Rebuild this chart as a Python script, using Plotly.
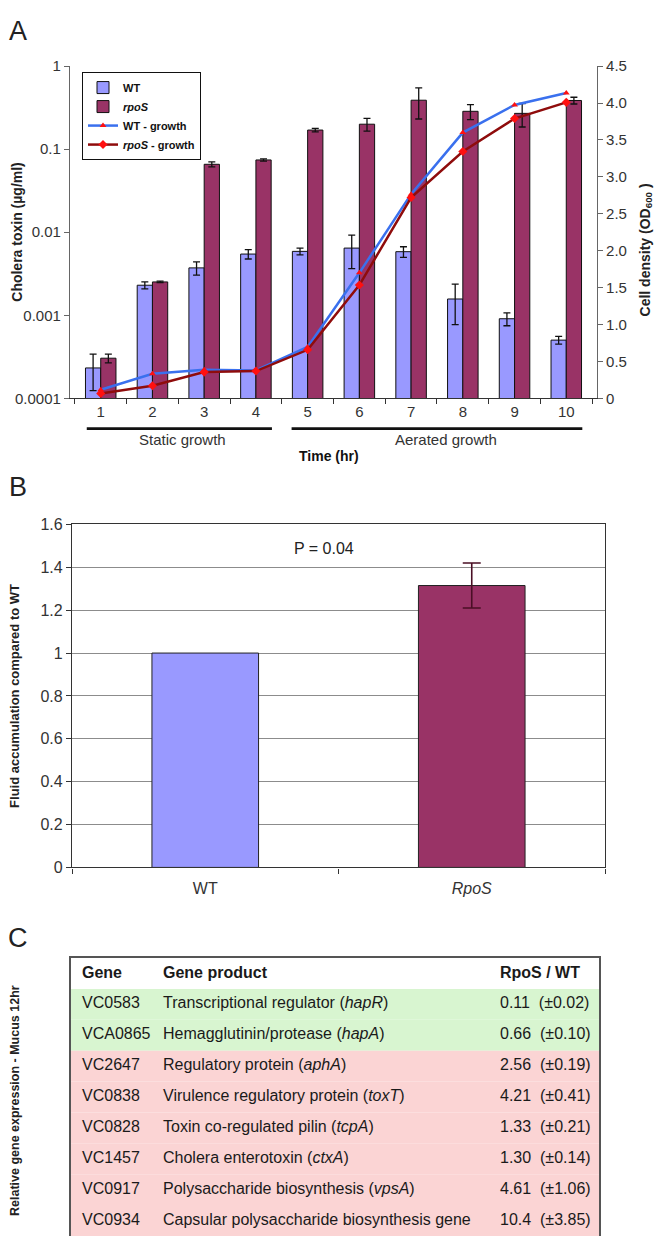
import plotly.graph_objects as go

W, H = 655, 1245


def px(x):
    return x / W


def py(y):
    return 1 - y / H


# ---------------- Panel A data ----------------
hours = [str(i) for i in range(1, 11)]
wt_toxin = [0.000232, 0.0023, 0.00372, 0.00546, 0.00588, 0.00644, 0.00583, 0.00157, 0.000908, 0.000502]
wt_toxin_err = [0.000108, 0.00022, 0.00068, 0.0007, 0.00054, 0.0028, 0.00085, 0.0008, 0.00016, 0.000054]
rpos_toxin = [0.000304, 0.00252, 0.0658, 0.0742, 0.17, 0.2, 0.389, 0.286, 0.27, 0.386]
rpos_toxin_err = [0.000037, 0.00005, 0.0046, 0.0024, 0.008, 0.035, 0.158, 0.059, 0.085, 0.036]
wt_growth = [0.115, 0.333, 0.386, 0.377, 0.696, 1.70, 2.766, 3.60, 3.975, 4.136]
rpos_growth = [0.066, 0.169, 0.355, 0.369, 0.657, 1.534, 2.72, 3.344, 3.79, 4.01]

log_ticks = [0.0001, 0.001, 0.01, 0.1, 1]
log_tick_text = ["0.0001", "0.001", "0.01", "0.1", "1"]
od_ticks = [0, 0.5, 1.0, 1.5, 2.0, 2.5, 3.0, 3.5, 4.0, 4.5]
od_tick_text = ["0", "0.5", "1.0", "1.5", "2.0", "2.5", "3.0", "3.5", "4.0", "4.5"]

# ---------------- Panel B data ----------------
fluid_strains = ["WT", "<i>RpoS</i>"]
fluid_values = [1.0, 1.315]
fluid_err = [0.105]

# ---------------- Panel C data ----------------
table_header = ["Gene", "Gene product", "RpoS / WT"]
genes = ["VC0583", "VCA0865", "VC2647", "VC0838", "VC0828", "VC1457", "VC0917", "VC0934"]
products = [
    "Transcriptional regulator (<i>hapR</i>)",
    "Hemagglutinin/protease (<i>hapA</i>)",
    "Regulatory protein (<i>aphA</i>)",
    "Virulence regulatory protein (<i>toxT</i>)",
    "Toxin co-regulated pilin (<i>tcpA</i>)",
    "Cholera enterotoxin (<i>ctxA</i>)",
    "Polysaccharide biosynthesis (<i>vpsA</i>)",
    "Capsular polysaccharide biosynthesis gene",
]
ratios = ["0.11", "0.66", "2.56", "4.21", "1.33", "1.30", "4.61", "10.4"]
ratio_err = ["0.02", "0.10", "0.19", "0.41", "0.21", "0.14", "1.06", "3.85"]

WT_COLOR = "#9999FF"
RPOS_COLOR = "#993366"
AX = "#333333"
FONT = "Arial, Liberation Sans, Helvetica, sans-serif"
TFONT = "Liberation Sans, Arial, sans-serif"

fig = go.Figure()

# Panel A bars
fig.add_trace(go.Bar(
    x=hours, y=wt_toxin, name="<b>WT</b>", xaxis="x", yaxis="y",
    marker=dict(color=WT_COLOR, line=dict(color="#111111", width=1)),
    error_y=dict(type="data", array=wt_toxin_err, color="#111111", thickness=1.3, width=3.5),
))
fig.add_trace(go.Bar(
    x=hours, y=rpos_toxin, name="<b><i>rpoS</i></b>", xaxis="x", yaxis="y",
    marker=dict(color=RPOS_COLOR, line=dict(color="#111111", width=1)),
    error_y=dict(type="data", array=rpos_toxin_err, color="#111111", thickness=1.3, width=3.5),
))
# Panel A growth curves
fig.add_trace(go.Scatter(
    x=hours, y=wt_growth, name="<b>WT - growth</b>", xaxis="x", yaxis="y2",
    mode="lines+markers", line=dict(color="#3a70ee", width=2.5),
    marker=dict(symbol="triangle-up", size=6, color="#ff1010"),
))
fig.add_trace(go.Scatter(
    x=hours, y=rpos_growth, name="<b><i>rpoS</i> - growth</b>", xaxis="x", yaxis="y2",
    mode="lines+markers", line=dict(color="#8f0c0c", width=2.5),
    marker=dict(symbol="diamond", size=7, color="#ff1010"),
))

# Panel B bars
fig.add_trace(go.Bar(
    x=fluid_strains[:1], y=fluid_values[:1], xaxis="x2", yaxis="y3", showlegend=False,
    offsetgroup="b", width=0.4,
    marker=dict(color=WT_COLOR, line=dict(color="#222222", width=1)),
))
fig.add_trace(go.Bar(
    x=fluid_strains[1:], y=fluid_values[1:], xaxis="x2", yaxis="y3", showlegend=False,
    offsetgroup="b", width=0.4,
    marker=dict(color=RPOS_COLOR, line=dict(color="#222222", width=1)),
    error_y=dict(type="data", array=fluid_err, color="#4a0f25", thickness=1.6, width=9),
))

# Panel C table: row backgrounds as horizontal bars, cell texts as text points
n_rows = len(genes)
row_idx = list(range(1, n_rows + 1))
row_colors = ["#d8f5d0" if float(r) < 1 else "#fbd4d4" for r in ratios]
ratio_text = [f"{r}\u00a0\u00a0(±{e})" for r, e in zip(ratios, ratio_err)]
fig.add_trace(go.Bar(
    x=[1] * n_rows, y=row_idx, base=0, orientation="h", width=1,
    marker=dict(color=row_colors, line=dict(width=0)),
    xaxis="x3", yaxis="y4", showlegend=False, hoverinfo="skip",
))
col_x = [11 / 528, 92 / 528, 429 / 528]
columns = [genes, products, ratio_text]
for j, col in enumerate(columns):
    fig.add_trace(go.Scatter(
        x=[col_x[j]] * (n_rows + 1), y=[0] + row_idx,
        text=[f"<b>{table_header[j]}</b>"] + col,
        mode="text", textposition="middle right",
        textfont=dict(family=TFONT, size=16, color="#1a1a1a"),
        xaxis="x3", yaxis="y4", showlegend=False, hoverinfo="skip",
    ))

annotations = [
    dict(text="A", x=px(18), y=py(22), font=dict(size=27, color="#222")),
    dict(text="B", x=px(18), y=py(485), font=dict(size=27, color="#222")),
    dict(text="C", x=px(18), y=py(943), font=dict(size=27, color="#222")),
    dict(text="<b>Cholera toxin (µg/ml)</b>", x=px(17), y=py(226), textangle=-90, font=dict(size=14, color="#222")),
    dict(text="<b>Cell density (OD<sub>600</sub> )</b>", x=px(646), y=py(245), textangle=-90, font=dict(size=14, color="#222")),
    dict(text="Static growth", x=px(182), y=py(437), font=dict(size=15, color="#333")),
    dict(text="Aerated growth", x=px(446), y=py(437), font=dict(size=15, color="#333")),
    dict(text="<b>Time (hr)</b>", x=px(329), y=py(454), font=dict(size=14, color="#111")),
    dict(text="<b>Fluid accumulation compared to WT</b>", x=px(15), y=py(697), textangle=-90, font=dict(size=13, color="#222")),
    dict(text="P = 0.04", x=px(324), y=py(547), font=dict(size=16, color="#222")),
    dict(text="<b>Relative gene expression - Mucus 12hr</b>", x=px(15), y=py(1108), textangle=-90, font=dict(size=12.5, color="#222")),
]
for a in annotations:
    a.update(xref="paper", yref="paper", showarrow=False, xanchor="center", yanchor="middle")

shapes = [
    dict(type="line", xref="x", yref="paper", x0=-0.27, x1=3.31, y0=py(425.7), y1=py(425.7),
         line=dict(color="#111", width=2.7)),
    dict(type="line", xref="x", yref="paper", x0=3.69, x1=9.31, y0=py(425.7), y1=py(425.7),
         line=dict(color="#111", width=2.7)),
]

fig.update_layout(
    width=W, height=H, autosize=False,
    margin=dict(l=0, r=0, t=0, b=0),
    paper_bgcolor="white", plot_bgcolor="white",
    font=dict(family=FONT, color="#333"),
    barmode="group", bargap=0.41, bargroupgap=0,
    showlegend=True,
    legend=dict(
        x=px(82), y=py(64), xanchor="left", yanchor="top",
        bgcolor="white", bordercolor="#111", borderwidth=1,
        font=dict(family=FONT, size=11, color="#111"),
        traceorder="normal", tracegroupgap=0, itemwidth=30,
    ),
    xaxis=dict(
        domain=[px(70), px(597)], anchor="y", type="category",
        tickson="boundaries", ticks="outside", ticklen=5, tickcolor=AX,
        showline=True, linecolor=AX, linewidth=1.2, showgrid=False,
        tickfont=dict(size=15, color="#333"),
    ),
    yaxis=dict(
        domain=[py(395), py(58)], anchor="x", type="log", range=[-4, 0],
        tickvals=log_ticks, ticktext=log_tick_text,
        ticks="outside", ticklen=5, tickcolor="#666",
        showline=True, linecolor="#666", linewidth=1.2, showgrid=False, zeroline=False,
        tickfont=dict(size=15, color="#333"),
    ),
    yaxis2=dict(
        overlaying="y", side="right", anchor="x", range=[0, 4.5],
        tickvals=od_ticks, ticktext=od_tick_text,
        ticks="outside", ticklen=5, tickcolor="#666",
        showline=True, linecolor="#666", linewidth=1.2, showgrid=False, zeroline=False,
        tickfont=dict(size=15, color="#333"),
    ),
    xaxis2=dict(
        domain=[px(72), px(605)], anchor="y3", type="category",
        tickson="boundaries", ticks="outside", ticklen=5, tickcolor=AX,
        showline=True, mirror=True, linecolor=AX, linewidth=1.2, showgrid=False,
        tickfont=dict(size=16, color="#333"), ticklabelstandoff=6,
    ),
    yaxis3=dict(
        domain=[py(871), py(523)], anchor="x2", range=[0, 1.6], dtick=0.2,
        ticks="outside", ticklen=5, tickcolor=AX,
        showline=True, mirror=True, linecolor=AX, linewidth=1.2,
        showgrid=True, gridcolor="#8c8c8c", gridwidth=1, zeroline=False,
        tickfont=dict(size=16, color="#333"),
    ),
    xaxis3=dict(
        domain=[px(71), px(599)], anchor="y4", range=[0, 1], side="top",
        showline=True, linecolor="#555", linewidth=1.5, mirror=False,
        showgrid=False, zeroline=False, showticklabels=False, ticks="",
        fixedrange=True,
    ),
    yaxis4=dict(
        domain=[0, py(963)], anchor="x3", range=[n_rows + 0.5, -0.5],
        showline=True, linecolor="#555", linewidth=1.5, mirror=True,
        showgrid=False, zeroline=False, showticklabels=False, ticks="",
        fixedrange=True,
    ),
    annotations=annotations,
    shapes=shapes,
)

fig.write_html(
    "out.html",
    config={"displayModeBar": False},
    post_script="document.body.style.margin='0px';document.body.style.overflow='hidden';",
)
